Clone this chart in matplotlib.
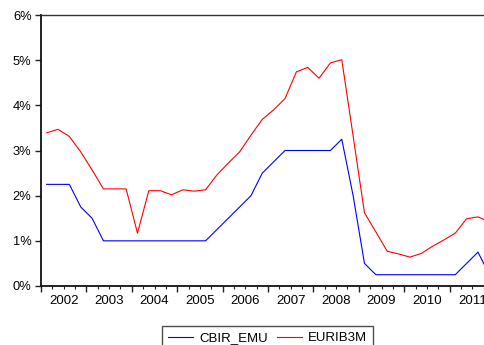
import matplotlib
matplotlib.use("Agg")
import matplotlib.pyplot as plt
import matplotlib.ticker as ticker

# quarterly data 2002Q1 - 2011Q4 (percent)
years = list(range(2002, 2012))
cbir_emu = [2.25, 2.25, 2.25, 1.75, 1.5, 1.0, 1.0, 1.0, 1.0, 1.0,
            1.0, 1.0, 1.0, 1.0, 1.0, 1.25, 1.5, 1.75, 2.0, 2.5,
            2.75, 3.0, 3.0, 3.0, 3.0, 3.0, 3.25, 2.0, 0.5, 0.25,
            0.25, 0.25, 0.25, 0.25, 0.25, 0.25, 0.25, 0.5, 0.75, 0.25]
euribor_3m = [3.39, 3.47, 3.31, 2.97, 2.57, 2.15, 2.15, 2.15, 1.17, 2.11,
              2.11, 2.02, 2.13, 2.10, 2.13, 2.46, 2.72, 2.97, 3.34, 3.69,
              3.90, 4.15, 4.74, 4.84, 4.60, 4.94, 5.01, 3.32, 1.62, 1.20,
              0.77, 0.71, 0.64, 0.72, 0.88, 1.02, 1.17, 1.49, 1.53, 1.42]

plt.rcParams["font.family"] = ["Liberation Sans", "DejaVu Sans"]
plt.rcParams["font.size"] = 9

# points sit in the middle of each quarter
x = [years[0] + (i + 0.5) / 4 for i in range(len(cbir_emu))]

fig = plt.figure(figsize=(4.85, 3.45), dpi=100)
# axes run a bit past the right edge, like the cropped original
ax = fig.add_axes([41 / 485, 59 / 345, 454 / 485, 271 / 345])

l1, = ax.plot(x, cbir_emu, color="#0000ff", linewidth=0.8, label="CBIR_EMU")
l2, = ax.plot(x, euribor_3m, color="#ff0000", linewidth=0.8, label="EURIB3M")

ax.set_xlim(2002, 2012)
ax.set_ylim(0, 6)

# years as major ticks, quarters as minor; year labels centred on mid-year
ax.xaxis.set_major_locator(ticker.FixedLocator(years + [2012]))
ax.xaxis.set_major_formatter(ticker.NullFormatter())
minor_pos, minor_lab = [], []
for yr in years:
    for q in (0.25, 0.5, 0.75):
        minor_pos.append(yr + q)
        minor_lab.append(str(yr) if q == 0.5 else "")
ax.xaxis.set_minor_locator(ticker.FixedLocator(minor_pos))
ax.xaxis.set_minor_formatter(ticker.FixedFormatter(minor_lab))

ax.yaxis.set_major_locator(ticker.MultipleLocator(1))
ax.yaxis.set_major_formatter(ticker.FuncFormatter(lambda v, p: f"{v:.0f}%"))

ax.tick_params(axis="x", which="major", direction="out", length=4, width=1, color="#222222")
ax.tick_params(axis="x", which="minor", direction="out", length=2.5, width=0.8,
               color="#222222", pad=4.3, labelsize=9.5)
ax.tick_params(axis="y", which="major", direction="out", length=4.3, width=1,
               color="#222222", pad=2.5, labelsize=9.3)

for side in ("left", "bottom"):
    ax.spines[side].set_linewidth(1.3)
    ax.spines[side].set_color("#111111")
ax.spines["top"].set_linewidth(1.0)
ax.spines["top"].set_color("#333333")
ax.spines["right"].set_linewidth(1.0)

leg = fig.legend(handles=[l1, l2], loc="upper center",
                 bbox_to_anchor=(267.5 / 485, 1 - 326 / 345), ncol=2,
                 frameon=True, fancybox=False, shadow=False,
                 edgecolor="#222222", fontsize=9.5, handlelength=1.9,
                 handletextpad=0.45, columnspacing=0.65, borderpad=0.45,
                 borderaxespad=0)
leg.get_frame().set_linewidth(1.0)

fig.savefig("out.png", dpi=100)
